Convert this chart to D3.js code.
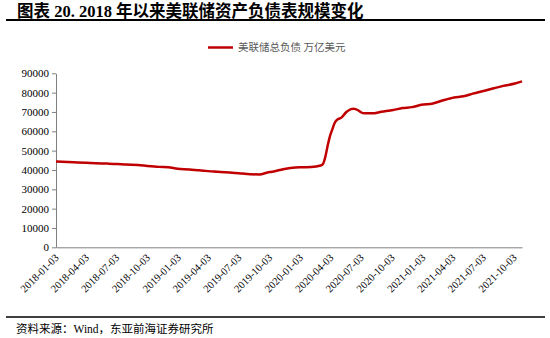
<!DOCTYPE html>
<html>
<head>
<meta charset="utf-8">
<script src="https://cdn.jsdelivr.net/npm/d3@7"></script>
<style>
  body { margin: 0; background: #fff; }
  svg { display: block; }
</style>
</head>
<body>
<div id="chart"></div>
<script>
// Fed total assets, 亿美元
const dates = [
  "2018-01-03","2018-02-07","2018-03-07","2018-04-04","2018-05-02","2018-06-06","2018-07-04","2018-08-01","2018-09-05","2018-10-03","2018-11-07","2018-12-05",
  "2019-01-02","2019-02-06","2019-03-06","2019-04-03","2019-05-01","2019-06-05","2019-07-03","2019-08-07","2019-09-04","2019-09-25","2019-10-16","2019-11-13","2019-12-11",
  "2020-01-08","2020-02-05","2020-03-04","2020-03-11","2020-03-18","2020-03-25","2020-04-01","2020-04-08","2020-04-15","2020-04-22","2020-05-06","2020-05-20","2020-06-03","2020-06-10","2020-06-24","2020-07-01","2020-07-15","2020-08-05","2020-09-02","2020-10-07","2020-11-04","2020-12-02","2020-12-30",
  "2021-02-03","2021-03-03","2021-04-07","2021-05-05","2021-06-02","2021-07-07","2021-08-04","2021-09-01","2021-10-06","2021-10-27"
];
const values = [
  44400,44100,43900,43700,43500,43300,43100,42800,42600,42100,41600,41400,
  40600,40300,39800,39400,39100,38700,38300,37800,37700,38600,39200,40400,41200,
  41400,41500,42300,43100,46700,52500,57500,61000,64300,65900,67200,70000,71500,71700,70900,70000,69300,69300,70100,71000,72000,72500,73700,
  74400,75900,77500,78100,79500,81000,82300,83500,84700,85800
];
const yTicks = [0,10000,20000,30000,40000,50000,60000,70000,80000,90000];
const xTicks = [
  "2018-01-03","2018-04-03","2018-07-03","2018-10-03","2019-01-03","2019-04-03","2019-07-03","2019-10-03",
  "2020-01-03","2020-04-03","2020-07-03","2020-10-03","2021-01-03","2021-04-03","2021-07-03","2021-10-03"
];
const title = "图表 20. 2018 年以来美联储资产负债表规模变化";
const seriesName = "美联储总负债 万亿美元";
const source = "资料来源：Wind，东亚前海证券研究所";

const width = 550, height = 338;
const marginLeft = 56, plotRight = 522, plotTop = 73.3, plotBottom = 247.3;
const serif = "'Liberation Serif','Times New Roman','Noto Sans CJK SC',serif";

const parse = d3.timeParse("%Y-%m-%d");
const data = dates.map((d, i) => ({ date: parse(d), value: values[i] }));

const svg = d3.select("#chart").append("svg")
  .attr("width", width)
  .attr("height", height);

// title + rules
svg.append("text")
  .attr("x", 17).attr("y", 17)
  .attr("font-family", serif)
  .attr("font-weight", "bold")
  .attr("font-size", 16.5)
  .attr("fill", "#000")
  .text(title);
svg.append("line")
  .attr("x1", 6).attr("x2", 545).attr("y1", 20).attr("y2", 20)
  .attr("stroke", "#000").attr("stroke-width", 2);
svg.append("line")
  .attr("x1", 6).attr("x2", 545).attr("y1", 317).attr("y2", 317)
  .attr("stroke", "#000").attr("stroke-width", 1.5);
svg.append("text")
  .attr("x", 16).attr("y", 333)
  .attr("font-family", serif)
  .attr("font-size", 11.5)
  .attr("fill", "#000")
  .text(source);

// scales
const x = d3.scaleTime()
  .domain([parse(dates[0]), parse(dates[dates.length - 1])])
  .range([marginLeft, plotRight]);
const y = d3.scaleLinear()
  .domain([0, 90000])
  .range([plotBottom, plotTop]);

// y axis
const yAxis = svg.append("g")
  .attr("transform", `translate(${marginLeft},0)`)
  .call(d3.axisLeft(y).tickValues(yTicks).tickSize(4).tickSizeOuter(0).tickFormat(d3.format("d")));
yAxis.select(".domain").attr("stroke", "#808080");
yAxis.selectAll(".tick line").attr("stroke", "#808080");
yAxis.selectAll("text")
  .attr("font-family", serif)
  .attr("font-size", 11)
  .attr("fill", "#000")
  .attr("x", -7);

// x axis
const xAxis = svg.append("g")
  .attr("transform", `translate(0,${plotBottom})`)
  .call(d3.axisBottom(x).tickValues(xTicks.map(parse)).tickSize(0).tickSizeOuter(0).tickFormat(d3.timeFormat("%Y-%m-%d")));
xAxis.select(".domain").attr("stroke", "#808080");
xAxis.selectAll("text")
  .attr("font-family", serif)
  .attr("font-size", 10.5)
  .attr("fill", "#000")
  .attr("text-anchor", "end")
  .attr("dy", 0)
  .attr("transform", "translate(3,11) rotate(-45)")
  .attr("y", 0).attr("x", 0);

// line
const line = d3.line()
  .x(d => x(d.date))
  .y(d => y(d.value))
  .curve(d3.curveMonotoneX);

svg.append("path")
  .datum(data)
  .attr("fill", "none")
  .attr("stroke", "#C00000")
  .attr("stroke-width", 2.5)
  .attr("stroke-linejoin", "round")
  .attr("d", line);

// legend
svg.append("line")
  .attr("x1", 208).attr("x2", 233).attr("y1", 47.5).attr("y2", 47.5)
  .attr("stroke", "#C00000").attr("stroke-width", 2.5);
svg.append("text")
  .attr("x", 238).attr("y", 51)
  .attr("font-family", serif)
  .attr("font-size", 10.5)
  .attr("fill", "#595959")
  .text(seriesName);
</script>
</body>
</html>
